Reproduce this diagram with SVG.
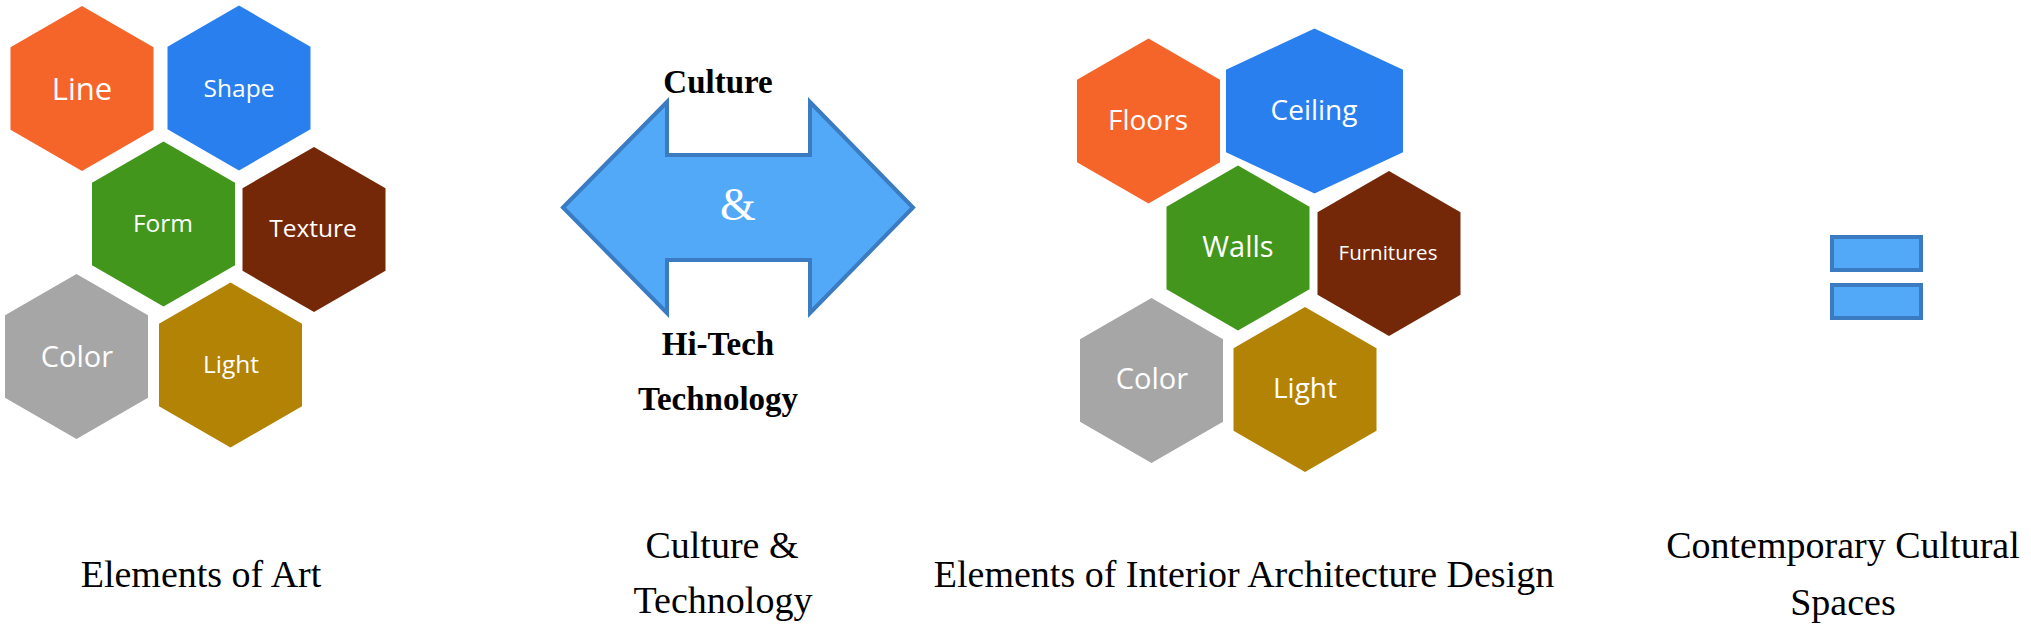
<svg xmlns="http://www.w3.org/2000/svg" xmlns:xlink="http://www.w3.org/1999/xlink" width="2031" height="628" viewBox="0 0 2031 628">
<style>
.ht{font-family:"Open Sans","Noto Sans",sans-serif;fill:#ffffff;text-anchor:middle}
.cap{font-family:"Liberation Serif","Times New Roman",serif;fill:#000000;text-anchor:middle;font-size:38px}
.bold{font-family:"Liberation Serif","Times New Roman",serif;font-weight:bold;fill:#000000;text-anchor:middle;font-size:33px}
.orange{fill:#F5652A}.blue{fill:#2A7FEF}.green{fill:#41961B}.brown{fill:#742808}.gray{fill:#A6A6A6}.gold{fill:#B38306}
.arr{fill:#52A9F7;stroke:#3A7BC2;stroke-width:4}
</style>
<defs>
<polygon id="hex" points="0,-82.5 71.5,-41.25 71.5,41.25 0,82.5 -71.5,41.25 -71.5,-41.25"/>
</defs>
<rect width="2031" height="628" fill="#ffffff"/>

<g id="art-line"><use xlink:href="#hex" href="#hex" class="orange" transform="translate(82,88.5)"/><text class="ht" x="82" y="100" font-size="31">Line</text></g>
<g id="art-shape"><use xlink:href="#hex" href="#hex" class="blue" transform="translate(239,88)"/><text class="ht" x="239" y="97" font-size="24.5">Shape</text></g>
<g id="art-form"><use xlink:href="#hex" href="#hex" class="green" transform="translate(163.5,224)"/><text class="ht" x="163" y="232" font-size="24.5">Form</text></g>
<g id="art-texture"><use xlink:href="#hex" href="#hex" class="brown" transform="translate(314,229.5)"/><text class="ht" x="313" y="237" font-size="24.5">Texture</text></g>
<g id="art-color"><use xlink:href="#hex" href="#hex" class="gray" transform="translate(76.5,356.5)"/><text class="ht" x="77" y="367" font-size="29">Color</text></g>
<g id="art-light"><use xlink:href="#hex" href="#hex" class="gold" transform="translate(230.5,365)"/><text class="ht" x="231" y="373" font-size="24.5">Light</text></g>
<g id="label-art"><text class="cap" x="201" y="587">Elements of Art</text></g>

<g id="culture-arrow">
<polygon class="arr" points="563,207.5 667,102 667,155 810,155 810,102 913,207.5 810,313 810,260 667,260 667,313"/>
<text x="738" y="220" font-family="Liberation Serif,'Times New Roman',serif" font-size="46" fill="#ffffff" text-anchor="middle">&amp;</text>
<text class="bold" x="718" y="93">Culture</text>
<text class="bold" x="718" y="355">Hi-Tech</text>
<text class="bold" x="718" y="410">Technology</text>
</g>
<g id="label-culture"><text class="cap" x="722" y="558">Culture &amp;</text><text class="cap" x="723" y="613">Technology</text></g>

<g id="int-floors"><use xlink:href="#hex" href="#hex" class="orange" transform="translate(1148.5,121)"/><text class="ht" x="1148" y="130" font-size="28">Floors</text></g>
<g id="int-ceiling"><use xlink:href="#hex" href="#hex" class="blue" transform="translate(1314.5,111) scale(1.238,1)"/><text class="ht" x="1314" y="120" font-size="28">Ceiling</text></g>
<g id="int-walls"><use xlink:href="#hex" href="#hex" class="green" transform="translate(1238,248)"/><text class="ht" x="1238" y="257" font-size="29">Walls</text></g>
<g id="int-furnitures"><use xlink:href="#hex" href="#hex" class="brown" transform="translate(1389,253.5)"/><text class="ht" x="1388" y="260" font-size="20.5">Furnitures</text></g>
<g id="int-color"><use xlink:href="#hex" href="#hex" class="gray" transform="translate(1151.5,380.5)"/><text class="ht" x="1152" y="389" font-size="29">Color</text></g>
<g id="int-light"><use xlink:href="#hex" href="#hex" class="gold" transform="translate(1305,389.5)"/><text class="ht" x="1305" y="398" font-size="28">Light</text></g>
<g id="label-interior"><text class="cap" x="1244" y="587">Elements of Interior Architecture Design</text></g>

<g id="equals">
<rect class="arr" x="1832" y="237" width="89" height="33"/>
<rect class="arr" x="1832" y="285" width="89" height="33"/>
</g>
<g id="label-spaces"><text class="cap" x="1843" y="558" font-size="36.5">Contemporary Cultural</text><text class="cap" x="1843" y="615" font-size="36.5">Spaces</text></g>
<g id="connectors"></g>
</svg>
